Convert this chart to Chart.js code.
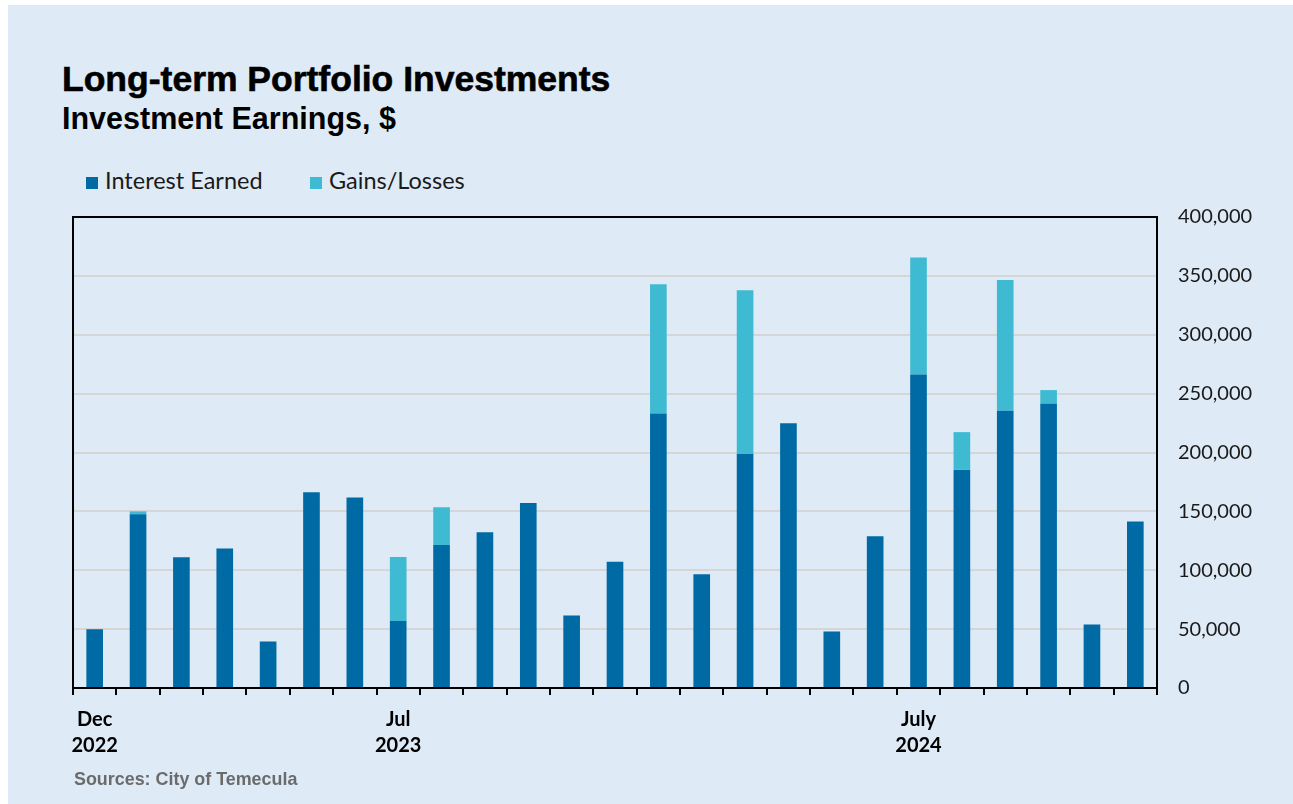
<!DOCTYPE html>
<html>
<head>
<meta charset="utf-8">
<script src="https://cdn.jsdelivr.net/npm/chart.js@4/dist/chart.umd.min.js"></script>
<style>
  html, body { margin: 0; padding: 0; background: #fff; }
  #page {
    position: absolute; left: 8px; top: 5px; width: 1285px; height: 799px;
    background: #deeaf6;
  }
  .abs { position: absolute; white-space: nowrap; }
  #title { left: 62px; top: 61px; font: bold 35.5px "Liberation Sans", Arial, sans-serif; line-height: 36px; color: #000; -webkit-text-stroke: 0.6px #000; }
  #subtitle { left: 62px; top: 103px; font: bold 30.5px "Liberation Sans", Arial, sans-serif; line-height: 30px; color: #000; }
  .leg { top: 166px; font: 23.5px Lato, sans-serif; line-height: 28px; color: #1a1a1a; }
  .leg i { display: inline-block; width: 12px; height: 12px; margin-right: 7px; vertical-align: 0px; }
  #source { left: 74px; top: 771px; font: bold 17.9px "Liberation Sans", Arial, sans-serif; line-height: 17.5px; color: #6b6b6b; }
  #wrap { position: absolute; left: 0; top: 184px; width: 1293px; height: 620px; }
</style>
</head>
<body>
<div id="page"></div>
<div class="abs" id="title">Long-term Portfolio Investments</div>
<div class="abs" id="subtitle">Investment Earnings, $</div>
<div class="abs leg" style="left:86px"><i style="background:#006aa4"></i>Interest Earned</div>
<div class="abs leg" style="left:310px"><i style="background:#3ebbd2"></i>Gains/Losses</div>
<div id="wrap"><canvas id="chart"></canvas></div>
<div class="abs" id="source">Sources: City of Temecula</div>

<script>
// months Dec 2022 .. Dec 2024
const months = ['Dec 2022', 'Jan 2023', 'Feb 2023', 'Mar 2023', 'Apr 2023', 'May 2023', 'Jun 2023',
  'Jul 2023', 'Aug 2023', 'Sep 2023', 'Oct 2023', 'Nov 2023', 'Dec 2023', 'Jan 2024', 'Feb 2024',
  'Mar 2024', 'Apr 2024', 'May 2024', 'Jun 2024', 'Jul 2024', 'Aug 2024', 'Sep 2024', 'Oct 2024',
  'Nov 2024', 'Dec 2024'];

const tickLabels = [['Dec', '2022'], '', '', '', '', '', '', ['Jul', '2023'], '', '', '', '', '', '', '',
  '', '', '', '', ['July', '2024'], '', '', '', '', ''];

const interestEarned = [50000, 147500, 111000, 118400, 39500, 166200, 161700, 56800, 121400, 132200,
  157100, 61600, 107300, 233200, 96500, 198800, 224900, 48000, 128800, 266300, 185200, 235400,
  241300, 54000, 141300];

const gainsLosses = [0, 2500, 0, 0, 0, 0, 0, 54400, 32100, 0, 0, 0, 0, 109700, 0, 139000, 0, 0, 0,
  99200, 32100, 111100, 11700, 0, 0];

const yTicks = [0, 50000, 100000, 150000, 200000, 250000, 300000, 350000, 400000];

// box around the plot area (top border is not an axis)
const frame = {
  id: 'frame',
  afterDraw(chart) {
    const a = chart.chartArea, ctx = chart.ctx;
    ctx.save();
    ctx.strokeStyle = '#000';
    ctx.lineWidth = 2;
    ctx.strokeRect(a.left, a.top, a.right - a.left, a.bottom - a.top);
    ctx.restore();
  }
};

function init() {
  const ctx = document.getElementById('chart').getContext('2d');
  window.earningsChart = new Chart(ctx, {
    type: 'bar',
    data: {
      labels: months,
      datasets: [{
        label: 'Interest Earned',
        data: interestEarned,
        backgroundColor: '#006aa4'
      }, {
        label: 'Gains/Losses',
        data: gainsLosses,
        backgroundColor: '#3ebbd2'
      }]
    },
    options: {
      responsive: true,
      maintainAspectRatio: false,
      animation: false,
      categoryPercentage: 0.8,
      barPercentage: 0.48,
      layout: { padding: { left: 73, right: 16, top: 2, bottom: 0 } },
      plugins: {
        legend: { display: false },
        tooltip: { enabled: false }
      },
      scales: {
        x: {
          stacked: true,
          offset: true,
          grid: {
            offset: true,
            drawOnChartArea: false,
            drawTicks: true,
            tickLength: 7,
            color: '#000',
            lineWidth: 2
          },
          border: { display: true, color: '#000', width: 2 },
          ticks: {
            autoSkip: false,
            maxRotation: 0,
            padding: 12,
            color: '#000',
            font: { family: 'Lato', size: 20, weight: 'bold', lineHeight: 1.3 },
            callback: (v, i) => tickLabels[i]
          },
          afterFit: s => { s.height = 116; }
        },
        y: {
          stacked: true,
          position: 'right',
          min: 0,
          max: 400000,
          afterBuildTicks: s => { s.ticks = yTicks.map(v => ({ value: v })); },
          grid: { color: '#d6d6d6', lineWidth: 2, drawTicks: false },
          border: { display: true, color: '#000', width: 2 },
          ticks: {
            padding: 21,
            color: '#1a1a1a',
            font: { family: 'Lato', size: 20 },
            callback: v => v.toLocaleString('en-US')
          },
          afterFit: s => { s.width = 120; }
        }
      }
    },
    plugins: [frame]
  });
}

document.addEventListener('DOMContentLoaded', init);
</script>
</body>
</html>
